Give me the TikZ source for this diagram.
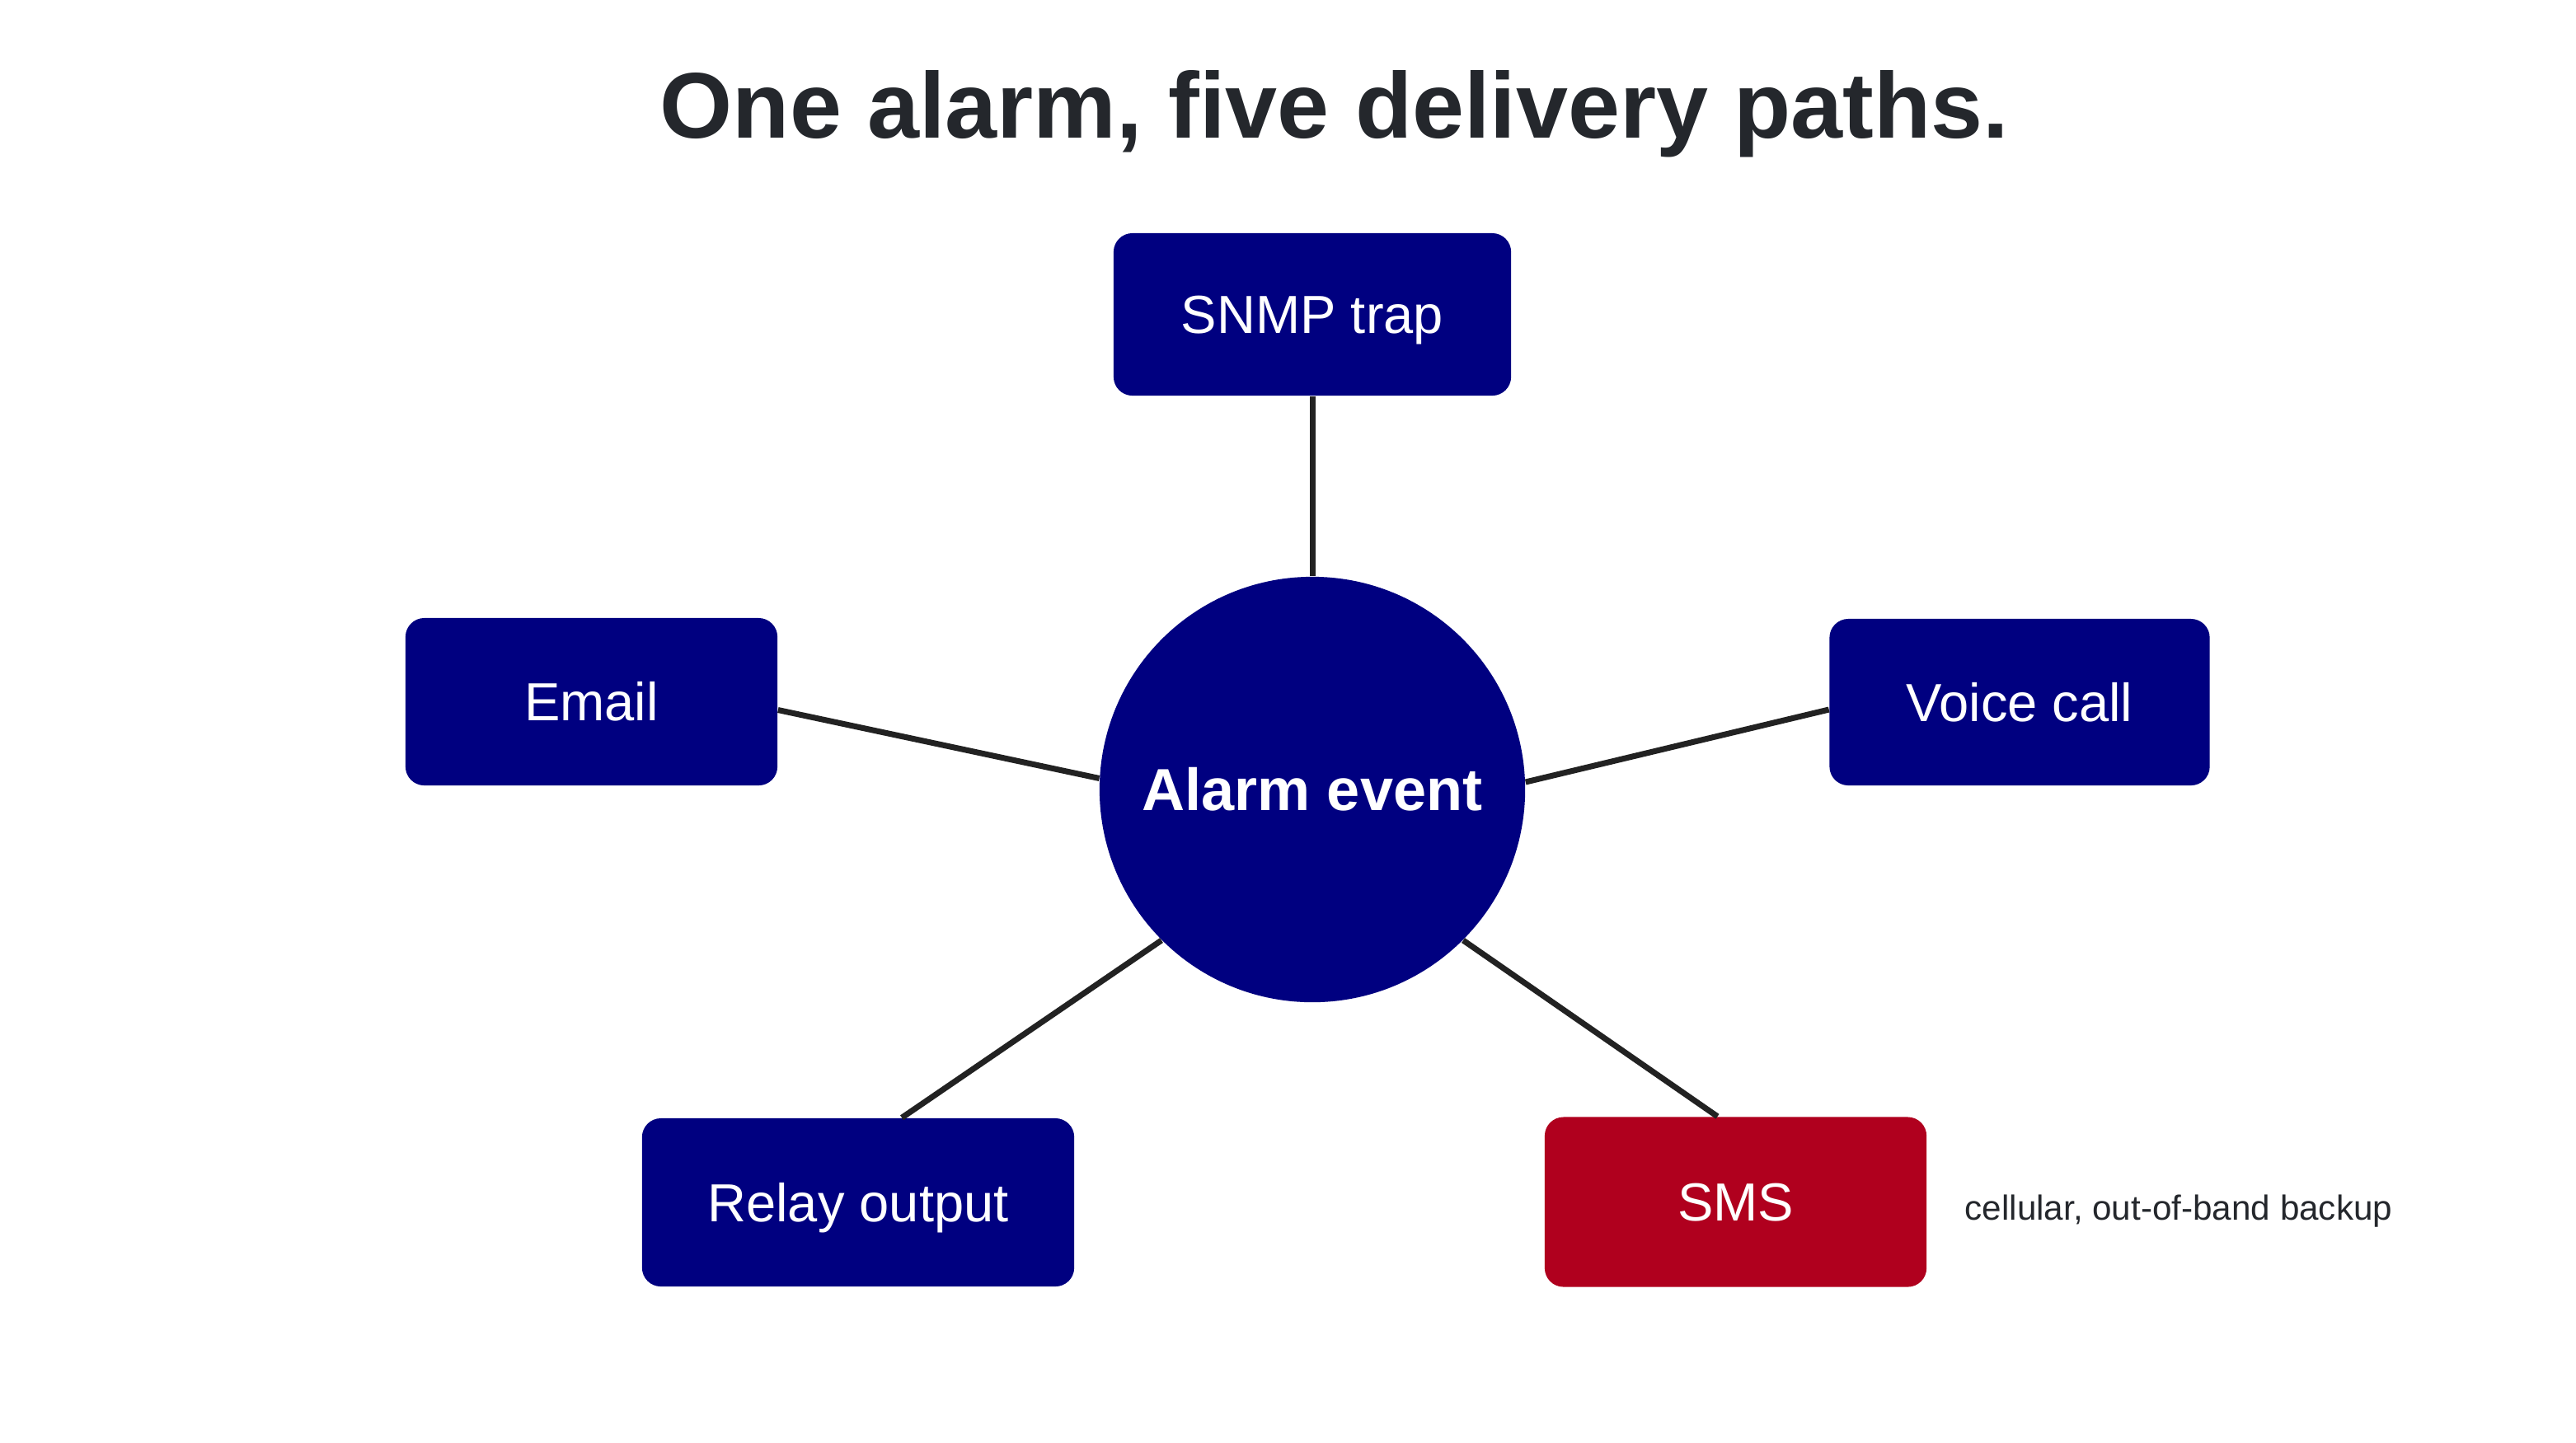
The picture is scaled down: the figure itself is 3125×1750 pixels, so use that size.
\documentclass[tikz,border=0pt]{standalone}
\usepackage{fontspec}
\setmainfont{Liberation Sans}
\definecolor{navy}{HTML}{000080}
\definecolor{alertred}{HTML}{B0001E}
\definecolor{ink}{HTML}{24272C}
\definecolor{wire}{HTML}{222222}
\begin{document}
\begin{tikzpicture}[x=0.01cm,y=-0.01cm,
  pathbox/.style={draw=none,fill=navy,rounded corners=6.5pt,text=white,inner sep=0pt,
    text height=13.25pt,text depth=0pt,
    font=\fontsize{18.5}{22}\selectfont},
  hub/.style={circle,fill=navy,text=white,inner sep=0pt,minimum size=5.16cm,
    text height=14.7pt,text depth=0pt,
    font=\bfseries\fontsize{20.5}{24}\selectfont},
  wire/.style={draw=wire,line width=2pt}]
\path[use as bounding box,fill=white] (0,0) rectangle (3125,1750);
\node[anchor=base,text=ink,font=\bfseries\fontsize{32.2}{38}\selectfont] (title) at (1619,167) {One alarm, five delivery paths.};
\node[hub] (alarm) at (1592,958) {Alarm event};
\node[pathbox,minimum width=4.82cm,minimum height=1.97cm] (snmp) at (1592,381.5) {SNMP trap};
\node[pathbox,minimum width=4.51cm,minimum height=2.03cm] (email) at (717.5,851.5) {Email};
\node[pathbox,minimum width=4.61cm,minimum height=2.02cm] (voice) at (2450,852) {Voice call};
\node[pathbox,minimum width=5.24cm,minimum height=2.04cm] (relay) at (1041,1459) {Relay output};
\node[pathbox,fill=alertred,minimum width=4.63cm,minimum height=2.06cm] (sms) at (2105.5,1458.5) {SMS};
\node[anchor=west,text=ink,inner sep=0pt,font=\fontsize{12}{14}\selectfont] (note) at (2383,1470) {cellular, out-of-band backup};
\draw[wire] (snmp.south) -- (alarm.north);
\draw[wire] ([yshift=-0.1cm]email.east) -- (alarm.177.5);
\draw[wire] (alarm.2.5) -- ([yshift=-0.09cm]voice.west);
\draw[wire] (alarm.225) -- ([xshift=0.53cm]relay.north);
\draw[wire] (alarm.-45) -- ([xshift=-0.22cm]sms.north);
\end{tikzpicture}
\end{document}
